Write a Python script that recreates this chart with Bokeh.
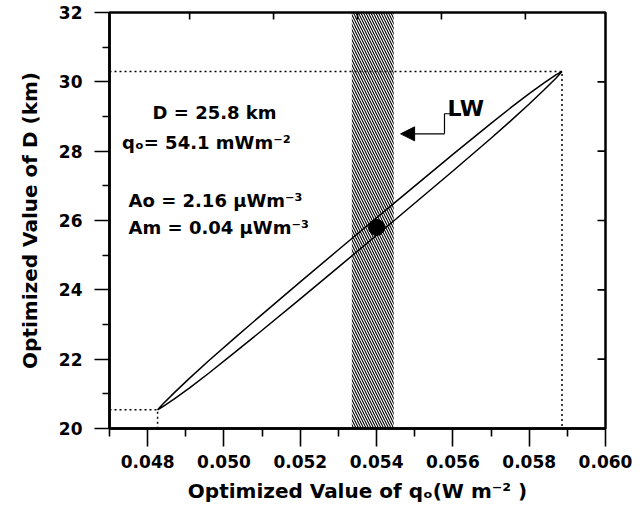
from bokeh.plotting import figure
from bokeh.models import FixedTicker, Arrow, NormalHead, Range1d, PrintfTickFormatter
from bokeh.core.properties import value
from bokeh.embed import file_html
from bokeh.resources import INLINE

# ---------------- data ----------------
x_ticks = [0.048, 0.050, 0.052, 0.054, 0.056, 0.058, 0.060]
x_tick_labels = ["0.048", "0.050", "0.052", "0.054", "0.056", "0.058", "0.060"]
x_minor = [0.047, 0.049, 0.051, 0.053, 0.055, 0.057, 0.059]
y_ticks = [20, 22, 24, 26, 28, 30, 32]
y_tick_labels = ["20", "22", "24", "26", "28", "30", "32"]
y_minor = [21, 23, 25, 27, 29, 31]
top_ticks = [0.0491, 0.0513, 0.0535, 0.0557, 0.0579]
right_ticks = [22, 24, 26, 28, 30]

# uncertainty contour (upper and lower boundary of the narrow ellipse)
contour_x = [0.04826, 0.04840, 0.04870, 0.04910, 0.04960, 0.05030, 0.05100, 0.05200, 0.05300,
             0.05450, 0.05600, 0.05700, 0.05750, 0.05800, 0.05840, 0.05870, 0.05886]
contour_upper = [20.54, 20.704, 21.035, 21.453, 21.954, 22.628, 23.293, 24.229, 25.155,
                 26.536, 27.907, 28.803, 29.239, 29.659, 29.977, 30.203, 30.30]
contour_lower = [20.54, 20.634, 20.855, 21.173, 21.594, 22.208, 22.833, 23.739, 24.655,
                 26.036, 27.427, 28.373, 28.859, 29.359, 29.777, 30.103, 30.30]

# hatched band (LW range of heat flow)
band_q = [0.05335, 0.05445]

# optimum point
opt_q = [0.054]
opt_D = [25.8]

ann_text = ["D = 25.8 km", "q\u2092= 54.1 mWm\u207b\u00b2",
            "Ao = 2.16 \u03bcWm\u207b\u00b3", "Am = 0.04 \u03bcWm\u207b\u00b3"]

x_label = "Optimized Value of q\u2092(W m\u207b\u00b2 )"
y_label = "Optimized Value of D (km)"

XMIN, XMAX, YMIN, YMAX = 0.047, 0.060, 20, 32
FONT = "DejaVu Sans"

p = figure(width=642, height=511, x_range=Range1d(XMIN, XMAX), y_range=Range1d(YMIN, YMAX),
           output_backend="svg", toolbar_location=None,
           min_border_left=109, min_border_right=37, min_border_top=12, min_border_bottom=83,
           x_axis_label=x_label, y_axis_label=y_label)
p.xgrid.visible = False
p.ygrid.visible = False
p.outline_line_color = "black"
p.outline_line_width = 2.5
p.background_fill_color = "white"
p.border_fill_color = "white"


def style_axis(ax, ticks, minor, labels, tick_out, minor_out, standoff, title_standoff):
    ax.ticker = FixedTicker(ticks=ticks, minor_ticks=minor)
    ax.major_label_overrides = dict(zip(ticks, labels))
    ax.major_tick_out = tick_out
    ax.major_tick_in = 0
    ax.minor_tick_out = minor_out
    ax.minor_tick_in = 0
    ax.major_tick_line_width = 1.6
    ax.minor_tick_line_width = 1.6
    ax.major_tick_line_color = "black"
    ax.minor_tick_line_color = "black"
    ax.axis_line_width = 2.5
    ax.axis_line_color = "black"
    ax.major_label_text_font = FONT
    ax.major_label_text_font_style = "bold"
    ax.major_label_text_font_size = "17px"
    ax.major_label_text_color = "black"
    ax.major_label_standoff = standoff
    ax.axis_label_text_font = FONT
    ax.axis_label_text_font_style = "bold"
    ax.axis_label_text_font_size = "20px"
    ax.axis_label_text_color = "black"
    ax.axis_label_standoff = title_standoff


xa = p.xaxis[0]
style_axis(xa, x_ticks, x_minor, x_tick_labels, 18, 8, 8, 8)
xa.formatter = PrintfTickFormatter(format="%.3f")
ya = p.yaxis[0]
style_axis(ya, y_ticks, y_minor, y_tick_labels, 15, 7, 12, 14)

# hatched band
p.quad(left=[band_q[0]], right=[band_q[1]], bottom=[YMIN], top=[YMAX],
       fill_color=None, line_color=None, hatch_pattern="left_diagonal_line",
       hatch_color="black", hatch_scale=5, hatch_weight=1.1)

# inward ticks on top and right frame
top_len = 0.2          # in D units (~7 px)
right_len = 0.00021    # in q units (~8 px)
p.segment(x0=top_ticks, x1=top_ticks, y0=[YMAX] * len(top_ticks),
          y1=[YMAX - top_len] * len(top_ticks), line_color="black", line_width=1.6)
p.segment(x0=[XMAX] * len(right_ticks), x1=[XMAX - right_len] * len(right_ticks),
          y0=right_ticks, y1=right_ticks, line_color="black", line_width=1.6)

# dotted guide lines from contour tips
p.line(x=[XMIN, contour_x[-1], contour_x[-1]], y=[contour_upper[-1], contour_upper[-1], YMIN],
       line_color="black", line_width=1.5, line_dash="2 3")
p.line(x=[XMIN, contour_x[0], contour_x[0]], y=[contour_lower[0], contour_lower[0], YMIN],
       line_color="black", line_width=1.5, line_dash="2 3")

# contour
px = contour_x + contour_x[::-1]
py = contour_upper + contour_lower[::-1]
p.patch(x=px, y=py, fill_color=None, line_color="black", line_width=1.5)

# optimum point
p.scatter(x=opt_q, y=opt_D, size=16, color="black")

# annotation texts
p.text(x=[0.04813, 0.04733, 0.0475, 0.0475], y=[29.12, 28.26, 26.58, 25.81], text=ann_text,
       text_font=value(FONT), text_font_style="bold", text_font_size="18px",
       text_baseline="alphabetic", text_align="left", text_color="black")

# LW label with bent arrow
p.text(x=[0.05586], y=[29.22], text=["LW"], text_font=value(FONT), text_font_style="bold",
       text_font_size="22px", text_baseline="alphabetic", text_align="left", text_color="black")
p.line(x=[0.05578, 0.05578, 0.0562], y=[28.50, 29.08, 29.08], line_color="black", line_width=1.2)
p.add_layout(Arrow(end=NormalHead(size=14, fill_color="black", line_color="black"),
                   x_start=0.05578, y_start=28.50, x_end=0.05463, y_end=28.50,
                   line_color="black", line_width=1.2))

open("out.html", "w").write(file_html(p, INLINE))
